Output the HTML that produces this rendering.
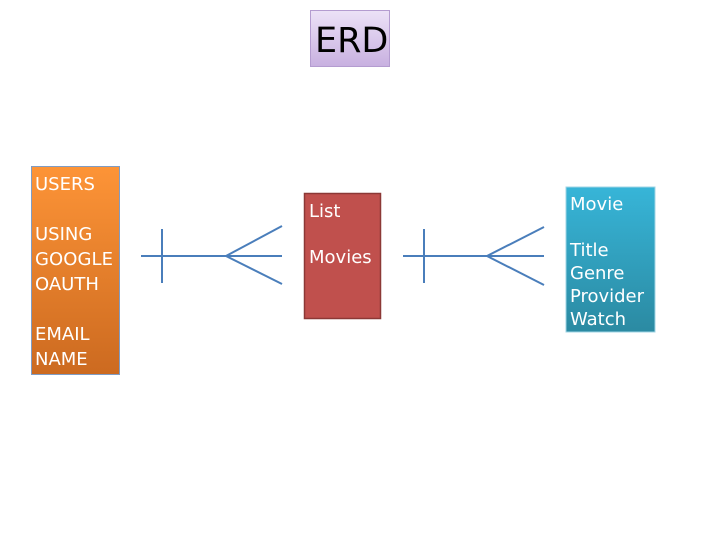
<!DOCTYPE html>
<html><head><style>
body{margin:0;background:#fff;}
svg{display:block;}
text{font-family:"DejaVu Sans","Liberation Sans",sans-serif;fill:#fff;}
</style></head><body>
<svg width="720" height="540" viewBox="0 0 720 540" xmlns="http://www.w3.org/2000/svg">
<defs>
<linearGradient id="g1" x1="0" y1="0" x2="0" y2="1"><stop offset="0" stop-color="#ece2f7"/><stop offset="1" stop-color="#c8b0e0"/></linearGradient>
<linearGradient id="g2" x1="0" y1="0" x2="0" y2="1"><stop offset="0" stop-color="#fd9437"/><stop offset="1" stop-color="#cc6a20"/></linearGradient>
<linearGradient id="g3" x1="0" y1="0" x2="0" y2="1"><stop offset="0" stop-color="#37b5d8"/><stop offset="1" stop-color="#2b8aa2"/></linearGradient>
</defs>
<rect x="310.5" y="10.5" width="79" height="56" fill="url(#g1)" stroke="#b49cd0"/>
<text x="315" y="52" font-size="35" style="fill:#000">ERD</text>

<rect x="31.5" y="166.5" width="88" height="208" fill="url(#g2)" stroke="#7f9cc4"/>
<g font-size="18">
<text x="35" y="190">USERS</text>
<text x="35" y="240">USING</text>
<text x="35" y="265" textLength="78">GOOGLE</text>
<text x="35" y="290">OAUTH</text>
<text x="35" y="340">EMAIL</text>
<text x="35" y="365">NAME</text>
</g>

<rect x="304.5" y="193.5" width="76" height="125" fill="#c0504d" stroke="#8c3836" stroke-width="1.5"/>
<g font-size="18">
<text x="309" y="217">List</text>
<text x="309" y="263">Movies</text>
</g>

<rect x="566" y="187" width="89" height="145" fill="url(#g3)" stroke="#9fd4e4"/>
<g font-size="18">
<text x="570" y="210">Movie</text>
<text x="570" y="256">Title</text>
<text x="570" y="279">Genre</text>
<text x="570" y="302" textLength="74">Provider</text>
<text x="570" y="325">Watch</text>
</g>

<g stroke="#4a7ebb" stroke-width="2" fill="none">
<line x1="141" y1="256" x2="282" y2="256"/>
<line x1="162" y1="229" x2="162" y2="283"/>
<line x1="226" y1="256" x2="282" y2="226"/>
<line x1="226" y1="256" x2="282" y2="284"/>
<line x1="403" y1="256" x2="544" y2="256"/>
<line x1="424" y1="229" x2="424" y2="283"/>
<line x1="487" y1="256" x2="544" y2="227"/>
<line x1="487" y1="256" x2="544" y2="285"/>
</g>
</svg>
</body></html>
